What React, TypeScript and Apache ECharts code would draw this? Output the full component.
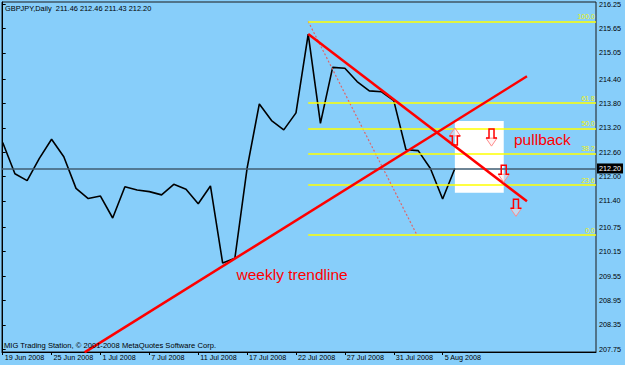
import React, { useEffect, useRef } from 'react';
import * as echarts from 'echarts';

const dates = ['19 Jun', '20 Jun', '23 Jun', '24 Jun', '25 Jun', '26 Jun', '27 Jun', '30 Jun', '1 Jul', '2 Jul', '3 Jul', '4 Jul', '7 Jul', '8 Jul', '9 Jul', '10 Jul', '11 Jul', '14 Jul', '15 Jul', '16 Jul', '17 Jul', '18 Jul', '20 Jul', '21 Jul', '22 Jul', '23 Jul', '24 Jul', '25 Jul', '27 Jul', '28 Jul', '29 Jul', '30 Jul', '31 Jul', '1 Aug', '3 Aug', '4 Aug', '5 Aug', '6 Aug'];
const closes = [212.84, 212.07, 211.90, 212.45, 212.92, 212.49, 211.71, 211.46, 211.52, 210.98, 211.75, 211.67, 211.63, 211.55, 211.81, 211.69, 211.33, 211.77, 209.87, 209.99, 212.21, 213.79, 213.38, 213.15, 213.57, 215.51, 213.31, 214.69, 214.67, 214.34, 214.11, 214.09, 213.87, 212.66, 212.64, 212.20, 211.45, 212.20];
const xLabelIdx = [0, 4, 8, 12, 16, 20, 24, 28, 32, 36];
const yTicks = [207.75, 208.35, 208.95, 209.55, 210.15, 210.75, 211.40, 212.00, 212.60, 213.20, 213.80, 214.40, 215.05, 215.65, 216.25];
const fibLevels = [0, 23.6, 38.2, 50, 61.8, 100];
const fibHigh = 215.82;
const fibLow = 210.56;
const fibStartBar = 25;
const fibAnchor = [[25, 215.82], [33.9, 210.56]];
const upTrend = [[6.7, 207.67], [42.9, 214.47]];
const downTrend = [[25, 215.51], [42.9, 211.39]];
const pullbackBox = [[37, 213.37], [41, 211.60]];
const arrows = [[37, 212.99, 1], [40, 212.96, -1], [41, 212.07, -1], [42, 211.23, -1]];
const lastPrice = 212.20;

const X_MIN = -0.057;
const X_MAX = 48.55;
const FONT = "'Liberation Sans', Arial, sans-serif";

export default function App() {
  const ref = useRef<HTMLDivElement>(null);
  useEffect(() => {
    if (!ref.current) return;
    const chart = echarts.init(ref.current, null, { renderer: 'svg' });
    const option: any = {
      animation: false,
      backgroundColor: '#87cefa',
      grid: { left: 2, right: 29, top: 2, bottom: 13, show: true, borderColor: '#1a1a1a', borderWidth: 1 },
      xAxis: {
        type: 'value', min: X_MIN, max: X_MAX,
        splitLine: { show: false },
        axisLine: { show: true, onZero: false, lineStyle: { color: '#000', width: 1 } },
        axisTick: { show: true, customValues: xLabelIdx, length: 3, lineStyle: { color: '#000' } },
        axisLabel: {
          customValues: xLabelIdx,
          formatter: (v: number) => `${dates[Math.round(v)]} 2008`,
          align: 'left', color: '#000', fontSize: 7.2, fontFamily: FONT, margin: 2, padding: [0, 0, 0, 2],
        },
      },
      yAxis: {
        type: 'value', position: 'right', min: 207.68, max: 216.30,
        splitLine: { show: false },
        axisLine: { show: true, lineStyle: { color: '#000', width: 1 } },
        axisTick: { show: true, customValues: yTicks, length: 3, lineStyle: { color: '#000' } },
        axisLabel: {
          customValues: yTicks, formatter: (v: number) => v.toFixed(2),
          color: '#000', fontSize: 7.2, fontFamily: FONT, margin: 3,
        },
      },
      graphic: [
        { type: 'text', x: 5, y: 8, z: 10, style: { text: 'GBPJPY,Daily  211.46 212.46 211.43 212.20', fill: '#000', fontSize: 7.4, fontFamily: FONT, verticalAlign: 'middle' } },
        { type: 'text', x: 4, y: 345, z: 10, style: { text: 'MIG Trading Station, © 2001-2008 MetaQuotes Software Corp.', fill: '#000', fontSize: 7.6, fontFamily: FONT, verticalAlign: 'middle' } },
        { type: 'text', x: 514, y: 139.5, z: 10, style: { text: 'pullback', fill: '#ff0000', fontSize: 15.5, fontFamily: FONT, verticalAlign: 'middle' } },
        { type: 'text', x: 236.5, y: 274.5, z: 10, style: { text: 'weekly trendline', fill: '#ff0000', fontSize: 15.5, fontFamily: FONT, verticalAlign: 'middle' } },
      ],
      series: [
        {
          type: 'line', name: 'close', z: 3,
          data: closes.map((v, i) => [i, v]),
          symbol: 'none',
          lineStyle: { color: '#000', width: 1.6 },
          markArea: {
            silent: true, z: 1,
            itemStyle: { color: '#ffffff', opacity: 1 },
            data: [[{ coord: pullbackBox[0] }, { coord: pullbackBox[1] }]],
          },
          markLine: {
            silent: true, symbol: ['none', 'none'], z: 4,
            lineStyle: { color: '#3f5d72', width: 1.5, type: 'solid' },
            label: {
              show: true, position: 'end', formatter: lastPrice.toFixed(2), distance: 1,
              backgroundColor: '#000', color: '#fff', fontSize: 7.2, fontFamily: FONT, padding: [2, 2, 1, 2],
            },
            data: [{ yAxis: lastPrice }],
          },
        },
        {
          type: 'line', name: 'fib', z: 4,
          data: fibAnchor,
          symbol: 'none',
          lineStyle: { color: '#e06468', width: 1.2, type: [2, 2] },
          markLine: {
            silent: true, symbol: ['none', 'none'], z: 5,
            lineStyle: { color: '#ffff00', width: 1.5, type: 'solid' },
            label: { show: true, position: 'insideEndTop', color: '#f4f400', fontSize: 7, fontFamily: FONT, distance: [1, 1] },
            data: fibLevels.map((l) => {
              const v = fibLow + (fibHigh - fibLow) * l / 100;
              return [
                { coord: [fibStartBar, v], label: { formatter: l.toFixed(1) } },
                { coord: [X_MAX, v] },
              ];
            }),
          },
        },
        {
          type: 'line', name: 'up', z: 6, data: upTrend, symbol: 'none',
          lineStyle: { color: '#ff0000', width: 2.5 },
        },
        {
          type: 'line', name: 'down', z: 6, data: downTrend, symbol: 'none',
          lineStyle: { color: '#ff0000', width: 2.5 },
        },
        {
          type: 'custom', name: 'arrows', z: 7,
          data: arrows,
          encode: { x: 0, y: 1 },
          renderItem: (params: any, api: any) => {
            const p = api.coord([api.value(0), api.value(1)]);
            const s = -api.value(2);
            const f = (pts: number[][]) => pts.map(([x, y]) => [p[0] + x, p[1] + y * s]);
            return {
              type: 'group',
              children: [
                { type: 'polygon', shape: { points: f([[-5.5, 0.5], [0, 8.5], [5.5, 0.5]]) }, style: { fill: 'rgba(255,230,230,0.45)', stroke: '#ff8a8a', lineWidth: 1 } },
                { type: 'polyline', shape: { points: f([[-5.5, 0.5], [-2.5, 0.5], [-2.5, -8.5], [2.5, -8.5], [2.5, 0.5], [5.5, 0.5]]) }, style: { fill: 'none', stroke: '#ff0000', lineWidth: 1.5 } },
              ],
            };
          },
        },
      ],
    };
    chart.setOption(option);
    return () => chart.dispose();
  }, []);
  return <div ref={ref} style={{ position: 'absolute', left: 0, top: 0, width: 625, height: 365 }} />;
}
